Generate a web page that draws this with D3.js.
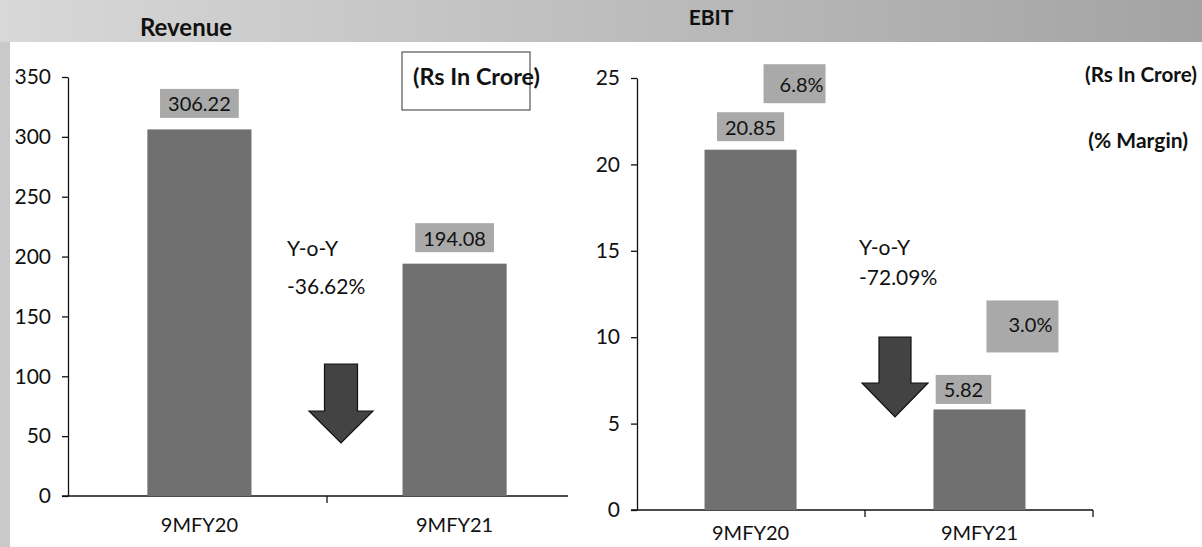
<!DOCTYPE html>
<html>
<head>
<meta charset="utf-8">
<script src="https://cdn.jsdelivr.net/npm/d3@7"></script>
<style>
  body { margin: 0; background: #fff; }
  text { font-family: Lato, "Open Sans", sans-serif; fill: #111; }
</style>
</head>
<body>
<script>
var w = 1202;
var h = 547;

// ---- data ----
var categories = ["9MFY20", "9MFY21"];
var revenue = [306.22, 194.08];
var ebit = [20.85, 5.82];
var ebitMargin = [6.8, 3.0];
var yoyChange = ["-36.62%", "-72.09%"];
var revTicks = [0, 50, 100, 150, 200, 250, 300, 350];
var ebitTicks = [0, 5, 10, 15, 20, 25];

var barColor = "#707070";
var boxColor = "#a9a9a9";

var svg = d3.select("body").append("svg")
    .attr("width", w)
    .attr("height", h);

// ---- background frame ----
var grad = svg.append("defs").append("linearGradient")
    .attr("id", "band")
    .attr("x1", "0%").attr("x2", "100%");
grad.append("stop").attr("offset", "0%").attr("stop-color", "#d8d8d8");
grad.append("stop").attr("offset", "100%").attr("stop-color", "#a3a3a3");

svg.append("rect")
    .attr("x", 0).attr("y", 0)
    .attr("width", w).attr("height", 42)
    .attr("fill", "url(#band)");
svg.append("rect")
    .attr("x", 0).attr("y", 42)
    .attr("width", 10).attr("height", h - 42)
    .attr("fill", "#c9c9c9");

// ---- scales ----
var yRev = d3.scaleLinear().domain([0, 350]).range([496, 77]);
var xRev = d3.scaleBand().domain(categories).range([68, 586])
    .paddingInner(0.592).paddingOuter(0.311);

var yEbit = d3.scaleLinear().domain([0, 25]).range([510, 78]);
var xEbit = d3.scaleBand().domain(categories).range([637, 1093])
    .paddingInner(0.598).paddingOuter(0.295);

function drawAxes(x, y, ticks, axisEnd, endTick, labelPad) {
    var g = svg.append("g");
    var yAx = g.append("g")
        .attr("transform", "translate(" + x.range()[0] + ",0)")
        .call(d3.axisLeft(y).tickValues(ticks).tickSize(6).tickSizeOuter(0).tickPadding(11));
    yAx.selectAll("text").attr("font-size", 21).style("font-family", "Lato, sans-serif").attr("fill", "#111");
    yAx.selectAll("line, path").attr("stroke", "#111").attr("stroke-width", 1.3);

    var xAx = g.append("g")
        .attr("transform", "translate(0," + y(0) + ")")
        .call(d3.axisBottom(x).tickSize(0).tickPadding(labelPad));
    xAx.select(".domain").remove();
    xAx.selectAll("text").attr("font-size", 20).style("font-family", "Lato, sans-serif").attr("fill", "#111");

    g.append("line")
        .attr("x1", x.range()[0] - 6).attr("x2", axisEnd)
        .attr("y1", y(0)).attr("y2", y(0))
        .attr("stroke", "#111").attr("stroke-width", 1.3);

    // category boundary ticks
    var bounds = [(x(categories[0]) + x.bandwidth() + x(categories[1])) / 2];
    if (endTick) bounds.push(axisEnd);
    g.selectAll(".ctick").data(bounds).enter().append("line")
        .attr("x1", function(d) { return d; }).attr("x2", function(d) { return d; })
        .attr("y1", y(0)).attr("y2", y(0) + 7)
        .attr("stroke", "#111").attr("stroke-width", 1.3);
}

function labelBox(cx, cy, txt, size, align) {
    var g = svg.append("g");
    var t = g.append("text")
        .text(txt)
        .attr("font-size", size)
        .attr("dominant-baseline", "central")
        .attr("y", cy);
    var tw = t.node().getComputedTextLength();
    var bw = tw + 16, bh = 29;
    if (align === "right") {
        t.attr("x", cx + bw / 2 - 5).attr("text-anchor", "end");
    } else {
        t.attr("x", cx).attr("text-anchor", "middle");
    }
    g.insert("rect", "text")
        .attr("x", cx - bw / 2).attr("y", cy - bh / 2)
        .attr("width", bw).attr("height", bh)
        .attr("fill", boxColor);
    return g;
}

function downArrow(cx, top, shaftW, headW, shaftH, headH) {
    var p = d3.path();
    p.moveTo(cx - shaftW / 2, top);
    p.lineTo(cx + shaftW / 2, top);
    p.lineTo(cx + shaftW / 2, top + shaftH);
    p.lineTo(cx + headW / 2, top + shaftH);
    p.lineTo(cx, top + shaftH + headH);
    p.lineTo(cx - headW / 2, top + shaftH);
    p.lineTo(cx - shaftW / 2, top + shaftH);
    p.closePath();
    svg.append("path")
        .attr("d", p.toString())
        .attr("fill", "#434343")
        .attr("stroke", "#111")
        .attr("stroke-width", 1.2);
}

// ---------------- Revenue ----------------
svg.append("text")
    .text("Revenue")
    .attr("x", 186).attr("y", 26)
    .attr("text-anchor", "middle")
    .attr("dominant-baseline", "central")
    .attr("font-size", 24)
    .attr("font-weight", "bold");

drawAxes(xRev, yRev, revTicks, 568, false, 22);

svg.selectAll(".revbar").data(revenue).enter().append("rect")
    .attr("class", "revbar")
    .attr("x", function(d, i) { return xRev(categories[i]); })
    .attr("y", function(d) { return yRev(d); })
    .attr("width", xRev.bandwidth())
    .attr("height", function(d) { return yRev(0) - yRev(d); })
    .attr("fill", barColor);

revenue.forEach(function(d, i) {
    labelBox(xRev(categories[i]) + xRev.bandwidth() / 2, yRev(d) - 26, d.toFixed(2), 20);
});

svg.append("rect")
    .attr("x", 402).attr("y", 52)
    .attr("width", 128).attr("height", 58)
    .attr("fill", "none")
    .attr("stroke", "#333").attr("stroke-width", 1);
svg.append("text")
    .text("(Rs In Crore)")
    .attr("x", 413).attr("y", 76)
    .attr("dominant-baseline", "central")
    .attr("font-size", 22)
    .attr("font-weight", "bold")
    .attr("textLength", 127)
    .attr("lengthAdjust", "spacingAndGlyphs");

var revGap = (xRev(categories[0]) + xRev.bandwidth() + xRev(categories[1])) / 2;
svg.append("text").text("Y-o-Y")
    .attr("x", revGap - 40).attr("y", 247)
    .attr("dominant-baseline", "central").attr("font-size", 21);
svg.append("text").text(yoyChange[0])
    .attr("x", revGap - 40).attr("y", 285)
    .attr("dominant-baseline", "central").attr("font-size", 21);
downArrow(revGap + 14, 364, 33, 64, 47, 32);

// ---------------- EBIT ----------------
svg.append("text")
    .text("EBIT")
    .attr("x", 711).attr("y", 16)
    .attr("text-anchor", "middle")
    .attr("dominant-baseline", "central")
    .attr("font-size", 21)
    .attr("font-weight", "bold");

drawAxes(xEbit, yEbit, ebitTicks, 1093, true, 16);

svg.selectAll(".ebitbar").data(ebit).enter().append("rect")
    .attr("class", "ebitbar")
    .attr("x", function(d, i) { return xEbit(categories[i]); })
    .attr("y", function(d) { return yEbit(d); })
    .attr("width", xEbit.bandwidth())
    .attr("height", function(d) { return yEbit(0) - yEbit(d); })
    .attr("fill", barColor);

var ebCenter = function(i) { return xEbit(categories[i]) + xEbit.bandwidth() / 2; };

labelBox(ebCenter(0), yEbit(ebit[0]) - 23, ebit[0].toFixed(2), 20);
labelBox(ebCenter(1) - 16, yEbit(ebit[1]) - 20, ebit[1].toFixed(2), 20);

var m0 = labelBox(ebCenter(0) + 44, yEbit(ebit[0]) - 66, ebitMargin[0].toFixed(1) + "%", 20, "right");
m0.select("rect").attr("height", 39).attr("y", yEbit(ebit[0]) - 66 - 19.5).attr("width", 62).attr("x", ebCenter(0) + 13);
m0.select("text").attr("x", ebCenter(0) + 73);

var m1 = labelBox(ebCenter(1) + 43, yEbit(ebit[1]) - 83, ebitMargin[1].toFixed(1) + "%", 20, "right");
m1.select("rect").attr("height", 52).attr("y", yEbit(ebit[1]) - 83 - 26).attr("width", 72).attr("x", ebCenter(1) + 7);
m1.select("text").attr("x", ebCenter(1) + 73).attr("y", yEbit(ebit[1]) - 85);

svg.append("text")
    .text("(Rs In Crore)")
    .attr("x", 1197).attr("y", 73)
    .attr("text-anchor", "end")
    .attr("dominant-baseline", "central")
    .attr("font-size", 21)
    .attr("font-weight", "bold")
    .attr("textLength", 112)
    .attr("lengthAdjust", "spacingAndGlyphs");
svg.append("text")
    .text("(% Margin)")
    .attr("x", 1188).attr("y", 139)
    .attr("text-anchor", "end")
    .attr("dominant-baseline", "central")
    .attr("font-size", 21)
    .attr("font-weight", "bold");

var ebGap = (xEbit(categories[0]) + xEbit.bandwidth() + xEbit(categories[1])) / 2;
svg.append("text").text("Y-o-Y")
    .attr("x", ebGap - 6).attr("y", 246)
    .attr("dominant-baseline", "central").attr("font-size", 21);
svg.append("text").text(yoyChange[1])
    .attr("x", ebGap - 6).attr("y", 276)
    .attr("dominant-baseline", "central").attr("font-size", 21);
downArrow(ebGap + 30, 337, 32, 66, 46, 34);
</script>
</body>
</html>
